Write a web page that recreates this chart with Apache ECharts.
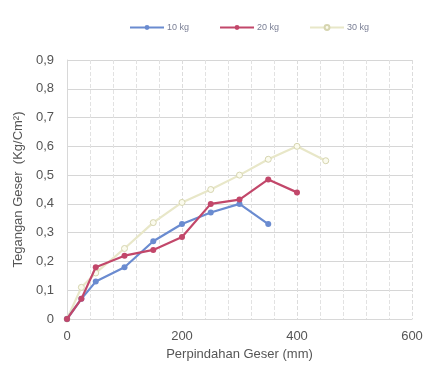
<!DOCTYPE html>
<html><head><meta charset="utf-8">
<script src="https://cdn.jsdelivr.net/npm/echarts@6/dist/echarts.min.js"></script>
<style>html,body{margin:0;padding:0;background:#fff}#c{width:429px;height:369px}</style>
</head><body><div id="c"></div>
<script>
const seriesNames = ['10 kg', '20 kg', '30 kg'];
const x10 = [0, 25, 50, 100, 150, 200, 250, 300, 350];
const y10 = [0, 0.07, 0.13, 0.18, 0.27, 0.33, 0.37, 0.40, 0.33];
const x20 = [0, 25, 50, 100, 150, 200, 250, 300, 350, 400];
const y20 = [0, 0.07, 0.18, 0.22, 0.24, 0.285, 0.40, 0.415, 0.485, 0.44];
const x30 = [0, 25, 50, 100, 150, 200, 250, 300, 350, 400, 450];
const y30 = [0, 0.11, 0.16, 0.245, 0.335, 0.405, 0.45, 0.50, 0.555, 0.60, 0.55];
const xTicks = [0, 200, 400, 600];

const pair = (xs, ys) => xs.map((x, i) => [x, ys[i]]);
const colors = ['#6a8bd0', '#c2476a', '#e8e7c8'];
const chart = echarts.init(document.getElementById('c'));
chart.setOption({
  animation: false,
  backgroundColor: '#fff',
  legend: {
    top: 18, left: 124, itemGap: 30, itemWidth: 34, itemHeight: 6,
    textStyle: {fontFamily: 'Liberation Sans', fontSize: 9, color: '#7a7f95', padding: [0, 0, 0, -2]},
    data: seriesNames
  },
  grid: {left: 67, right: 17, top: 60, bottom: 50},
  xAxis: {
    type: 'value', min: 0, max: 600, interval: 200,
    name: 'Perpindahan Geser (mm)', nameLocation: 'middle', nameGap: 27,
    nameTextStyle: {fontFamily: 'Liberation Sans', fontSize: 13, color: '#555'},
    axisLabel: {fontFamily: 'Liberation Sans', fontSize: 13, color: '#555', margin: 11,
      formatter: v => xTicks.includes(v) ? String(v) : ''},
    axisLine: {show: true, lineStyle: {color: '#d8d8d8'}},
    axisTick: {show: false},
    splitLine: {show: true, lineStyle: {color: '#dcdcdc', type: 'dashed'}},
    minorTick: {show: false, splitNumber: 5},
    minorSplitLine: {show: true, lineStyle: {color: '#e2e2e2', type: 'dashed'}}
  },
  yAxis: {
    type: 'value', min: 0, max: 0.9, interval: 0.1,
    name: 'Tegangan Geser  (Kg/Cm²)', nameLocation: 'middle', nameGap: 42,
    nameTextStyle: {fontFamily: 'Liberation Sans', fontSize: 13, color: '#555'},
    axisLabel: {fontFamily: 'Liberation Sans', fontSize: 13, color: '#555', margin: 13,
      formatter: v => v === 0 ? '0' : v.toFixed(1).replace('.', ',')},
    axisLine: {show: true, lineStyle: {color: '#d8d8d8'}},
    axisTick: {show: false},
    splitLine: {show: true, lineStyle: {color: '#d6d6d6'}}
  },
  series: [
    {name: seriesNames[0], type: 'line', data: pair(x10, y10), symbol: 'circle', symbolSize: 6,
     lineStyle: {width: 2.2, color: colors[0]}, itemStyle: {color: colors[0]}, z: 3},
    {name: seriesNames[1], type: 'line', data: pair(x20, y20), symbol: 'circle', symbolSize: 6,
     lineStyle: {width: 2.2, color: colors[1]}, itemStyle: {color: colors[1]}, z: 4},
    {name: seriesNames[2], type: 'line', data: pair(x30, y30), symbol: 'circle', symbolSize: 6,
     lineStyle: {width: 2.2, color: colors[2]}, itemStyle: {color: '#fbfbee', borderColor: '#d6d5b0', borderWidth: 1}, z: 2}
  ]
});
</script></body></html>
